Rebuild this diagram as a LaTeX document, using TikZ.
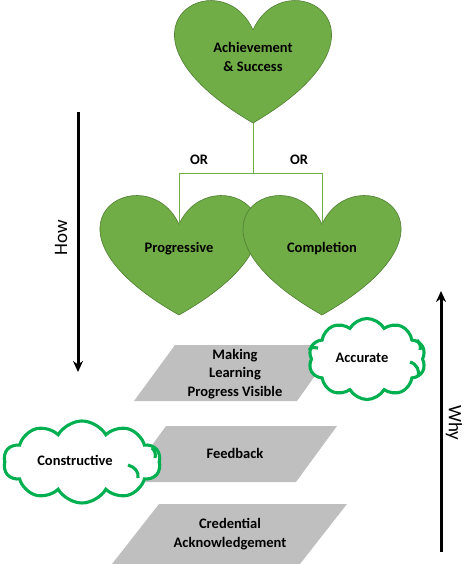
\documentclass[tikz,border=0pt]{standalone}
\usepackage{fontspec}
\setmainfont{Carlito}
\usetikzlibrary{arrows.meta,shapes.symbols}
\definecolor{heartgreen}{HTML}{70AD47}
\definecolor{heartedge}{HTML}{507E32}
\definecolor{paragray}{HTML}{BFBFBF}
\definecolor{cloudgreen}{HTML}{00B050}
\newcommand\myheart[4]{% cx, top, w, h
  \filldraw[heartstyle] (#1,#2+#4/4) .. controls (#1+10*#3/48,#2-#4/3) and (#1+49*#3/48,#2+#4/4) .. (#1,#2+#4)
    .. controls (#1-49*#3/48,#2+#4/4) and (#1-10*#3/48,#2-#4/3) .. (#1,#2+#4/4) -- cycle;}
\tikzset{
  heartstyle/.style={fill=heartgreen,draw=heartedge,line width=0.6pt},
  conn/.style={draw=heartgreen,line width=1pt},
  lbl/.style={font=\bfseries\fontsize{14.5}{18.5}\selectfont,align=center,inner sep=0pt},
  parastyle/.style={fill=paragray},
  cloudstyle/.style={cloud,cloud puffs=10,cloud puff arc=120,draw=cloudgreen,line width=3.1pt,fill=white,inner sep=0pt},
  cloudarc/.style={draw=cloudgreen,line width=3.1pt},
  bigarrow/.style={line width=3pt,-{Stealth[length=11pt,width=10pt]}},
  axislbl/.style={font=\fontsize{19}{22}\selectfont,inner sep=0pt}
}
\begin{document}
\begin{tikzpicture}[x=1pt,y=-1pt]
\useasboundingbox (0,0) rectangle (472,564);
% hearts
\myheart{253}{-1}{156}{124}
\myheart{179}{194}{157}{121}
\myheart{322}{194}{157}{121}
\node[lbl] (achieve) at (253,57) {Achievement\\\& Success};
\node[lbl] (prog) at (179,249) {Progressive};
\node[lbl] (compl) at (322,249) {Completion};
\coordinate (topTip) at (253,123);
\coordinate (split) at (253,173);
\coordinate (cuspL) at (179,224);
\coordinate (cuspR) at (322,224);
\draw[conn] (topTip) -- (split);
\draw[conn] (cuspL) -- (cuspL|-split) -- (cuspR|-split) -- (cuspR);
\node[lbl] (orL) at (199,160) {OR};
\node[lbl] (orR) at (299,160) {OR};
% parallelograms
\fill[parastyle] (175,345) -- (337,345) -- (297,401) -- (134,401) -- cycle;
\fill[parastyle] (166,426) -- (337,426) -- (296,482) -- (125,482) -- cycle;
\fill[parastyle] (159,504) -- (347,504) -- (300,564) -- (112,564) -- cycle;
\node[lbl] (making) at (235,374) {Making\\Learning\\Progress Visible};
\node[lbl] (feedback) at (235,453) {Feedback};
\node[lbl] (credential) at (230,534) {Credential\\Acknowledgement};
% clouds
\node[cloudstyle,minimum width=117pt,minimum height=81pt] (cloudA) at (367,359) {};
\draw[cloudarc] (410,362) .. controls (417,364) and (420,371) .. (418,377);
\draw[cloudarc] (417,340) .. controls (420,343) and (421,347) .. (420,350);
\draw[cloudarc] (309,350) .. controls (312,347) and (315,347) .. (318,348);
\node[lbl] (accurate) at (362,358) {Accurate};
\node[cloudstyle,minimum width=157pt,minimum height=82pt] (cloudC) at (82,462) {};
\draw[cloudarc] (128,465) .. controls (135,467) and (139,472) .. (138,478);
\draw[cloudarc] (152,448) .. controls (155,451) and (156,454) .. (155,458);
\node[lbl] (constructive) at (75,460) {Constructive};
% arrows
\coordinate (howTop) at (78,112);
\coordinate (howBot) at (78,372);
\draw[bigarrow] (howTop) -- (howBot);
\node[axislbl,rotate=90] (how) at (61,238) {How};
\coordinate (whyBot) at (441,552);
\coordinate (whyTop) at (441,291);
\draw[bigarrow] (whyBot) -- (whyTop);
\node[axislbl,rotate=-90] (why) at (454,423) {Why};
\end{tikzpicture}
\end{document}
